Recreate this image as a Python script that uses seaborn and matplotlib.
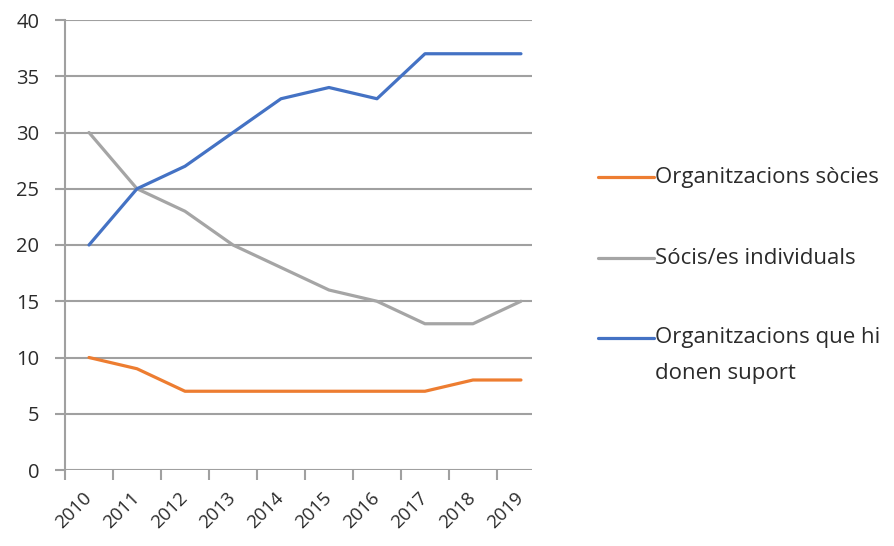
import matplotlib
matplotlib.use("Agg")
import matplotlib.pyplot as plt
from matplotlib.lines import Line2D
import seaborn as sns
import pandas as pd
import numpy as np

years = ["2010", "2011", "2012", "2013", "2014", "2015", "2016", "2017", "2018", "2019"]
org_socies = [10, 9, 7, 7, 7, 7, 7, 7, 8, 8]
socis_individuals = [30, 25, 23, 20, 18, 16, 15, 13, 13, 15]
org_suport = [20, 25, 27, 30, 33, 34, 33, 37, 37, 37]
series_names = ["Organitzacions sòcies", "Sócis/es individuals",
                "Organitzacions que hi\ndonen suport"]
colors = ["#ED7D31", "#A5A5A5", "#4472C4"]
y_ticks = [0, 5, 10, 15, 20, 25, 30, 35, 40]

sns.set_style("white")
plt.rcParams['font.family'] = ['Open Sans', 'DejaVu Sans']

rows = []
for name, vals in zip(series_names, [org_socies, socis_individuals, org_suport]):
    for i, v in enumerate(vals):
        rows.append({"idx": i, "value": v, "series": name})
df = pd.DataFrame(rows)

fig = plt.figure(figsize=(8.94, 5.46), dpi=100)
ax = fig.add_axes([65/894, 1-470/546, (532-65)/894, 450/546])

grid_c = "#A0A0A0"
text_c = "#2B2B2B"
for yv in y_ticks:
    ax.axhline(yv, color=grid_c, lw=1.5, zorder=0)

sns.lineplot(data=df, x="idx", y="value", hue="series", palette=colors,
             hue_order=series_names, lw=2.3, ax=ax, legend=False, zorder=3)

ax.set_xlabel("")
ax.set_ylabel("")
for s in ["top", "right", "bottom"]:
    ax.spines[s].set_visible(False)
ax.spines["left"].set_color(grid_c)
ax.spines["left"].set_linewidth(1.5)

ax.set_yticks(y_ticks)
ax.set_yticklabels([str(v) for v in y_ticks], fontsize=14.5, color=text_c)
ax.tick_params(axis="y", which="major", length=7.5, width=1.5, color=grid_c, pad=11, left=True)

ax.set_xticks(range(len(years)))
ax.set_xticklabels(years, rotation=45, ha="right", va="center",
                   rotation_mode="anchor", fontsize=13.5, color=text_c)
ax.tick_params(axis="x", which="major", length=0, pad=18)
ax.set_xticks(np.arange(-0.5, 9.0, 1.0), minor=True)
ax.tick_params(axis="x", which="minor", length=7, width=1.5, color=grid_c, bottom=True)

ax.set_xlim(-0.5, 9.23)
ax.set_ylim(0, 40)

# legend
leg_y = [177, 258, 338]
for c, name, yy in zip(colors, series_names, leg_y):
    yf = 1 - yy/546
    fig.add_artist(Line2D([598/894, 654/894], [yf, yf], color=c, lw=2.3))
    lines = name.split("\n")
    for k, ln in enumerate(lines):
        fig.text(655/894, 1 - (yy + k*35)/546, ln, fontsize=16, color=text_c,
                 ha="left", va="center")

fig.savefig("out.png", dpi=100)
